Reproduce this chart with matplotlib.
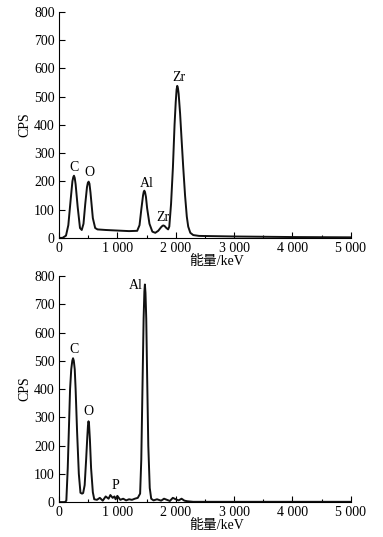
import matplotlib
matplotlib.use("Agg")
import matplotlib.pyplot as plt
from matplotlib.ticker import MultipleLocator, FuncFormatter

plt.rcParams['font.family'] = ['Liberation Serif', 'Noto Sans CJK SC']
plt.rcParams['font.size'] = 10

# spectrum (a): energy (keV) vs counts
energy_a = [0, 60, 120, 160, 200, 230, 245, 257, 270, 285, 320, 360, 390, 420, 450,
            480, 495, 508, 522, 540, 580, 620, 660, 800, 1000, 1200, 1340, 1380,
            1410, 1440, 1452, 1462, 1474, 1490, 1510, 1550, 1600, 1650, 1700, 1750,
            1775, 1790, 1810, 1835, 1870, 1890, 1920, 1952, 1980, 2000, 2015, 2026,
            2038, 2050, 2075, 2100, 2128, 2160, 2190, 2214, 2250, 2300, 2400, 3000,
            4000, 5000]
cps_a = [0, 0, 8, 45, 135, 200, 215, 220, 212, 190, 110, 35, 28, 50, 120,
         180, 195, 199, 192, 160, 70, 35, 30, 28, 26, 24, 25, 45,
         100, 150, 163, 167, 162, 145, 105, 50, 22, 18, 25, 38,
         43, 44, 42, 36, 30, 40, 120, 250, 400, 480, 525, 538,
         530, 510, 440, 350, 252, 150, 75, 40, 18, 10, 7, 5,
         3, 2]
labels_a = ["C", "O", "Al", "Zr", "Zr"]
label_e_a = [257, 520, 1500, 1775, 2060]
label_c_a = [248, 230, 191, 71, 566]

# spectrum (b)
energy_b = [0, 100, 126, 150, 170, 190, 210, 228, 241, 254, 270, 285, 310, 340, 368,
            395, 414, 440, 465, 485, 497, 506, 515, 530, 550, 580, 604, 650, 700,
            750, 800, 850, 880, 920, 950, 970, 1000, 1050, 1100, 1150, 1200, 1250,
            1300, 1350, 1390, 1410, 1430, 1450, 1463, 1472, 1482, 1495, 1510, 1530,
            1555, 1580, 1620, 1680, 1750, 1800, 1850, 1900, 1950, 2000, 2050, 2100,
            2150, 2200, 2300, 5000]
cps_b = [0, 0, 5, 120, 260, 400, 470, 500, 509, 500, 470, 400, 250, 100, 33,
         30, 32, 60, 150, 230, 272, 286, 275, 220, 120, 35, 10, 8, 15,
         5, 20, 12, 25, 15, 20, 10, 22, 8, 12, 6, 10, 8,
         12, 15, 30, 150, 400, 650, 745, 770, 740, 650, 450, 200,
         50, 12, 6, 10, 5, 12, 8, 4, 15, 10, 6, 12,
         5, 3, 1, 1]
labels_b = ["C", "O", "P", "Al"]
label_e_b = [253, 500, 972, 1322]
label_c_b = [541, 321, 60, 768]


def thousands(v, pos):
    v = int(v)
    return "{:,}".format(v).replace(",", " ")


def draw(ax, e, c, labels, le, lc):
    ax.plot(e, c, color="#111111", lw=1.4)
    for t, x, y in zip(labels, le, lc):
        ax.text(x, y, t, ha="center", va="center", fontsize=10)
    ax.set_xlim(0, 5000)
    ax.set_ylim(0, 800)
    ax.xaxis.set_major_locator(MultipleLocator(1000))
    ax.xaxis.set_minor_locator(MultipleLocator(500))
    ax.yaxis.set_major_locator(MultipleLocator(100))
    ax.xaxis.set_major_formatter(FuncFormatter(thousands))
    ax.tick_params(direction="in", length=4, width=0.8, labelsize=10, pad=3)
    ax.tick_params(which="minor", direction="in", length=2.5, width=0.8)
    ax.spines["top"].set_visible(False)
    ax.spines["right"].set_visible(False)
    ax.set_ylabel("CPS", fontsize=10, labelpad=2)
    ax.set_xlabel("能量/keV", fontsize=10, labelpad=0)
    ax.xaxis.set_label_coords(0.54, -0.075)


fig = plt.figure(figsize=(3.83, 5.37), dpi=100)
ax1 = fig.add_axes([0.154, 0.557, 0.762, 0.421])
ax2 = fig.add_axes([0.154, 0.065, 0.762, 0.421])
draw(ax1, energy_a, cps_a, labels_a, label_e_a, label_c_a)
draw(ax2, energy_b, cps_b, labels_b, label_e_b, label_c_b)

fig.savefig("out.png", dpi=100)
